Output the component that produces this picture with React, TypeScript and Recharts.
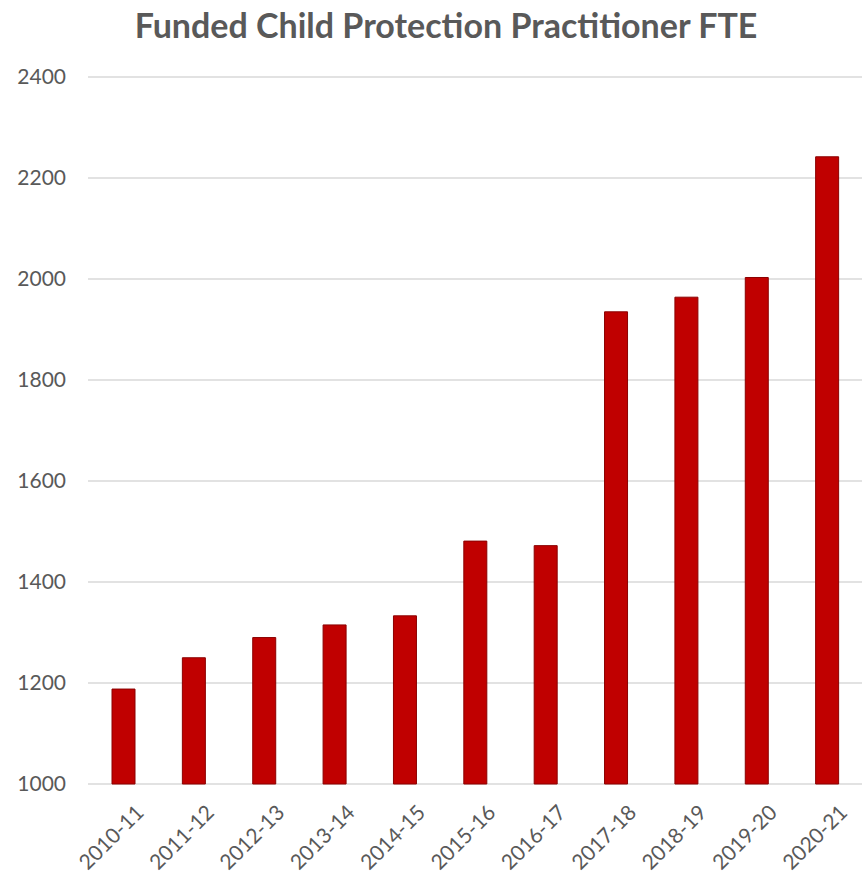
import { BarChart, Bar, XAxis, YAxis, CartesianGrid } from "recharts";

const years = [
  "2010-11",
  "2011-12",
  "2012-13",
  "2013-14",
  "2014-15",
  "2015-16",
  "2016-17",
  "2017-18",
  "2018-19",
  "2019-20",
  "2020-21",
];
const fte = [1188, 1250, 1290, 1315, 1333, 1481, 1472, 1935, 1964, 2003, 2242];
const yTicks = [1000, 1200, 1400, 1600, 1800, 2000, 2200, 2400];

const data = years.map((year, i) => ({ year, fte: fte[i] }));

const textColor = "#595959";
const fontFamily = "Lato, 'Open Sans', sans-serif";

const YearTick = ({ x, y, payload }: any) => (
  <text
    x={x + 10}
    y={y + 10}
    transform={`rotate(-45, ${x + 10}, ${y + 10})`}
    textAnchor="end"
    dominantBaseline="hanging"
    fill={textColor}
    fontSize={21}
    fontFamily={fontFamily}
  >
    {payload.value}
  </text>
);

export default function App() {
  return (
    <div style={{ position: "absolute", left: 0, top: 0, width: 864, height: 873, background: "#fff" }}>
      <div
        style={{
          position: "absolute",
          top: 4,
          left: 0,
          width: 892,
          textAlign: "center",
          fontFamily,
          fontWeight: 700,
          fontSize: 34,
          color: textColor,
        }}
      >
        Funded Child Protection Practitioner FTE
      </div>
      <BarChart
        width={864}
        height={873}
        data={data}
        margin={{ top: 77, right: 2, left: 0, bottom: 0 }}
      >
        <CartesianGrid vertical={false} stroke="#d9d9d9" strokeWidth={1.5} />
        <XAxis
          dataKey="year"
          tick={<YearTick />}
          tickLine={false}
          axisLine={false}
          interval={0}
          height={89}
        />
        <YAxis
          domain={[1000, 2400]}
          ticks={yTicks}
          tickLine={false}
          axisLine={false}
          width={88}
          tickMargin={16}
          tick={{ fontSize: 21, fill: textColor, fontFamily }}
        />
        <Bar
          dataKey="fte"
          fill="#C00000"
          stroke="#8B0000"
          strokeWidth={1}
          barSize={23}
          isAnimationActive={false}
        />
      </BarChart>
    </div>
  );
}
